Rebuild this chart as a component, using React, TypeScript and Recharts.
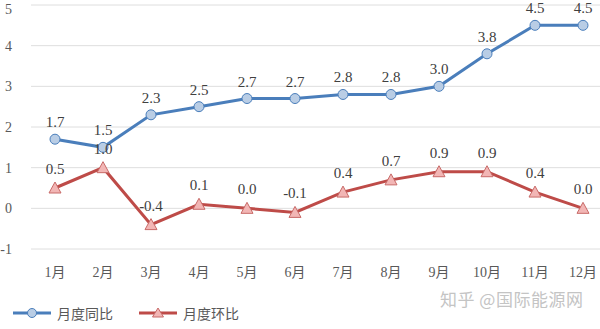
import React from 'react';
import { LineChart, Line, XAxis, YAxis, CartesianGrid, LabelList, Legend } from 'recharts';

const months = ['1月', '2月', '3月', '4月', '5月', '6月', '7月', '8月', '9月', '10月', '11月', '12月'];
const yoy = [1.7, 1.5, 2.3, 2.5, 2.7, 2.7, 2.8, 2.8, 3.0, 3.8, 4.5, 4.5];
const mom = [0.5, 1.0, -0.4, 0.1, 0.0, -0.1, 0.4, 0.7, 0.9, 0.9, 0.4, 0.0];
const yTicks = [-1, 0, 1, 2, 3, 4, 5];

const BLUE = '#4a7ebb';
const RED = '#be4b48';
const SERIF = '"Liberation Serif", "Times New Roman", "DejaVu Serif", "Noto Sans CJK SC", serif';

const data = months.map((m, i) => ({ month: m, yoy: yoy[i], mom: mom[i] }));

const Triangle = (props: any) => {
  const { cx, cy } = props;
  if (cx == null || cy == null) return null;
  return (
    <path
      d={`M${cx},${cy - 6} L${cx + 6},${cy + 5} L${cx - 6},${cy + 5} Z`}
      fill="#f2b6b5"
      stroke="#c86a68"
      strokeWidth={1}
    />
  );
};

const YTick = (props: any) => {
  const { y, payload } = props;
  return (
    <text x={12} y={y} dy={5} textAnchor="end" fontSize={14} fill="#595959" fontFamily={SERIF}>
      {payload.value}
    </text>
  );
};

const fmt = (v: any) => Number(v).toFixed(1);

const LegendBox = () => (
  <div style={{ display: 'flex', alignItems: 'center', fontFamily: '"Noto Sans CJK SC", sans-serif', fontSize: 14, color: '#595959', paddingLeft: 13 }}>
    <svg width={40} height={12}>
      <line x1={0} y1={6} x2={38} y2={6} stroke={BLUE} strokeWidth={3} />
      <circle cx={19} cy={6} r={4.5} fill="#b9cde5" stroke={BLUE} strokeWidth={1} />
    </svg>
    <span style={{ marginLeft: 4, marginRight: 26 }}>月度同比</span>
    <svg width={40} height={12}>
      <line x1={0} y1={6} x2={38} y2={6} stroke={RED} strokeWidth={3} />
      <path d="M19,1 L24.5,10 L13.5,10 Z" fill="#f2b6b5" stroke="#c86a68" strokeWidth={1} />
    </svg>
    <span style={{ marginLeft: 4 }}>月度环比</span>
  </div>
);

export default function App() {
  return (
    <div style={{ position: 'absolute', left: 0, top: 0, width: 600, height: 329, overflow: 'hidden', background: '#fff', fontFamily: SERIF }}>
      <LineChart width={612} height={329} data={data} margin={{ top: 5, right: 5, left: 0, bottom: 12 }}>
        <CartesianGrid vertical={false} stroke="#dedede" />
        <XAxis
          dataKey="month"
          axisLine={false}
          tickLine={false}
          padding={{ left: 24, right: 24 }}
          tick={{ fontSize: 14, fill: '#595959', fontFamily: SERIF }}
          tickMargin={12}
          height={48}
          interval={0}
        />
        <YAxis
          domain={[-1, 5]}
          ticks={yTicks}
          axisLine={false}
          tickLine={false}
          width={31}
          tick={<YTick />}
        />
        <Legend verticalAlign="bottom" content={<LegendBox />} wrapperStyle={{ bottom: 6 }} />
        <Line
          dataKey="yoy"
          name="月度同比"
          stroke={BLUE}
          strokeWidth={3}
          dot={{ r: 5, fill: '#b9cde5', stroke: BLUE, strokeWidth: 1 }}
          isAnimationActive={false}
        >
          <LabelList dataKey="yoy" position="top" offset={12} formatter={fmt} fontSize={15} fill="#404040" fontFamily={SERIF} />
        </Line>
        <Line
          dataKey="mom"
          name="月度环比"
          stroke={RED}
          strokeWidth={3}
          dot={<Triangle />}
          isAnimationActive={false}
        >
          <LabelList dataKey="mom" position="top" offset={14} formatter={fmt} fontSize={15} fill="#404040" fontFamily={SERIF} />
        </Line>
      </LineChart>
      <div style={{ position: 'absolute', left: 440, top: 286, fontFamily: '"Noto Sans CJK SC", sans-serif', fontSize: 17, color: '#c4c4c4', letterSpacing: 0.5 }}>
        知乎 @国际能源网
      </div>
    </div>
  );
}
